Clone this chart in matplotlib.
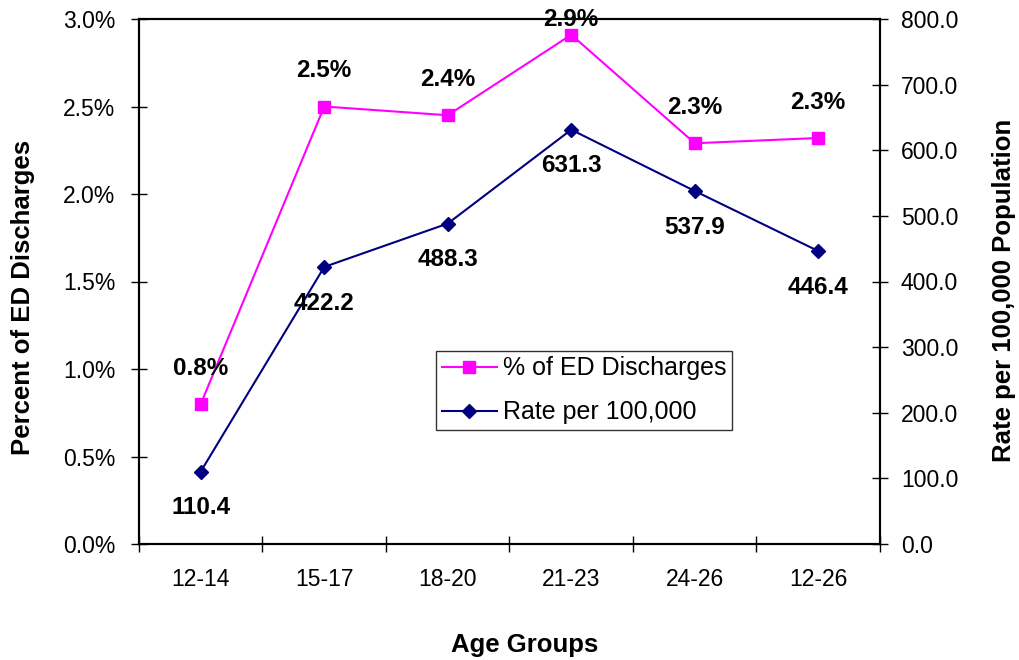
import matplotlib.pyplot as plt
from matplotlib.ticker import FuncFormatter, FixedLocator
import numpy as np

plt.rcParams['font.family'] = ['Liberation Sans', 'DejaVu Sans']

# === Data ===
age_groups = ["12-14", "15-17", "18-20", "21-23", "24-26", "12-26"]
pct_discharges = [0.80, 2.50, 2.45, 2.91, 2.29, 2.32]
pct_labels = ["0.8%", "2.5%", "2.4%", "2.9%", "2.3%", "2.3%"]
rate_per_100k = [110.4, 422.2, 488.3, 631.3, 537.9, 446.4]

x = np.arange(len(age_groups))

# === Plot ===
fig = plt.figure(figsize=(10.2, 6.6), dpi=100)
ax = fig.add_axes([139 / 1020, 1 - 544 / 660, 741 / 1020, 525 / 660])
ax2 = ax.twinx()

l1, = ax.plot(x, pct_discharges, color="#FF00FF", marker="s", markersize=9,
              linewidth=1.5, label="% of ED Discharges", zorder=3)
l2, = ax2.plot(x, rate_per_100k, color="#000080", marker="D", markersize=7,
               linewidth=1.5, label="Rate per 100,000", zorder=3)

# Percent labels above the markers (kept inside the plot area)
for xi, v, t in zip(x, pct_discharges, pct_labels):
    ax.text(xi, min(v + 0.205, 3.0), t, ha="center", va="center",
            fontsize=17.5, fontweight="bold", zorder=5)

# Rate labels below the markers
for xi, v in zip(x, rate_per_100k):
    ax2.annotate(f"{v:.1f}", (xi, v), xytext=(0, -26), textcoords="offset points",
                 ha="center", va="center", fontsize=17.5, fontweight="bold")

# Axes limits and ticks
ax.set_xlim(-0.5, len(age_groups) - 0.5)
ax.set_ylim(0, 3.0)
ax2.set_ylim(0, 800)
ax.set_yticks(np.arange(0, 3.01, 0.5))
ax2.set_yticks(np.arange(0, 801, 100))
ax.yaxis.set_major_formatter(FuncFormatter(lambda v, p: f"{v:.1f}%"))
ax2.yaxis.set_major_formatter(FuncFormatter(lambda v, p: f"{v:.1f}"))

ax.xaxis.set_major_locator(FixedLocator(np.arange(-0.5, len(age_groups), 1.0)))
ax.xaxis.set_minor_locator(FixedLocator(x))
ax.set_xticklabels([], minor=False)
ax.set_xticklabels(age_groups, minor=True)
ax.tick_params(axis="x", which="major", direction="inout", length=12, width=1)
ax.tick_params(axis="x", which="minor", length=0, pad=17, labelsize=16.5)
ax.tick_params(axis="y", direction="inout", length=12, width=1, labelsize=16.5, pad=11)
ax2.tick_params(axis="y", direction="inout", length=12, width=1, labelsize=16.5, pad=9)

for a in (ax, ax2):
    for s in a.spines.values():
        s.set_linewidth(1.5)

fig.text(525 / 1020, 1 - 645 / 660, "Age Groups", ha="center", va="center",
         fontsize=18.5, fontweight="bold")
fig.text(23 / 1020, 1 - 297 / 660, "Percent of ED Discharges", ha="center", va="center",
         rotation=90, fontsize=18.5, fontweight="bold")
fig.text(1004 / 1020, 1 - 290 / 660, "Rate per 100,000 Population", ha="center", va="center",
         rotation=90, fontsize=18.5, fontweight="bold")

leg = ax2.legend(handles=[l1, l2], loc="upper left", bbox_to_anchor=(0.401, 0.368),
                 fontsize=18, frameon=True, fancybox=False, borderpad=0.22,
                 handlelength=2.2, handletextpad=0.25, labelspacing=0.8,
                 borderaxespad=0)
leg.get_frame().set_edgecolor("black")
leg.get_frame().set_linewidth(1.0)

plt.savefig("out.png", dpi=100)
